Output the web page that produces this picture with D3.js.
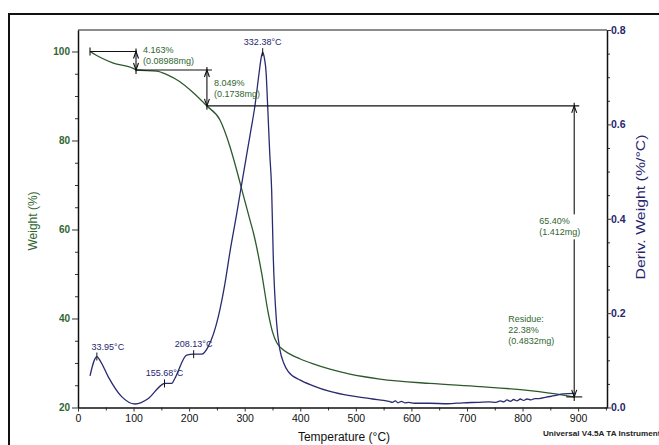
<!DOCTYPE html>
<html>
<head>
<meta charset="utf-8">
<script src="https://cdn.jsdelivr.net/npm/d3@7"></script>
<style>
  body { margin: 0; background: #fff; }
  text { font-family: "Liberation Sans", Arial, sans-serif; }
</style>
</head>
<body>
<div id="chart"></div>
<script>
const WIDTH = 659;
const HEIGHT = 445;

// TGA weight curve (°C, %)
const tempW = [21.6, 39.6, 63.5, 99.5, 104.4, 141.6, 160, 183.5, 205, 231.6, 255.5, 273.5, 285, 296, 309.5, 316, 330.5, 342.4, 350, 357.5, 366, 381.4, 400, 423.4, 453.4, 489.4, 543.4, 633.3, 723.3, 813.2, 873.2, 893];
const weightPct = [100, 98.7, 97.4, 96.2, 95.84, 95.6, 94.8, 93.2, 91.0, 87.79, 84.6, 78.6, 73.6, 68.4, 62.1, 59.1, 50.2, 41.2, 37.0, 34.6, 33.3, 32.0, 30.9, 29.8, 28.6, 27.5, 26.4, 25.4, 24.7, 23.8, 22.8, 22.38];

// DTG derivative curve (°C, %/°C)
const tempD = [21.6, 26, 30, 33.95, 40, 54.5, 78.6, 102.6, 126.5, 150.6, 155.68, 168.6, 174.5, 195.6, 208.13, 222.6, 234.4, 252.4, 264.5, 273.5, 285.5, 296.9, 310, 318.5, 326, 329.5, 332.38, 335.5, 338.5, 341.3, 345, 348.5, 351.4, 357.5, 363.4, 370, 378.4, 400, 423.4, 453.4, 489.4, 513.3, 530, 550, 560, 566, 571, 576, 582, 588, 595, 605, 633, 665, 693, 720, 740, 752, 760, 766, 772, 778, 784, 790, 796, 802, 808, 815, 822, 830, 843, 858, 873.2, 893];
const derivVal = [0.067, 0.088, 0.102, 0.108, 0.099, 0.065, 0.023, 0.0074, 0.019, 0.048, 0.051, 0.051, 0.062, 0.111, 0.113, 0.113, 0.129, 0.192, 0.263, 0.33, 0.41, 0.49, 0.58, 0.64, 0.71, 0.74, 0.753, 0.74, 0.71, 0.64, 0.54, 0.461, 0.32, 0.178, 0.122, 0.095, 0.076, 0.058, 0.046, 0.034, 0.025, 0.021, 0.018, 0.015, 0.013, 0.011, 0.014, 0.010, 0.013, 0.010, 0.011, 0.009, 0.009, 0.008, 0.010, 0.011, 0.012, 0.011, 0.014, 0.012, 0.016, 0.013, 0.017, 0.014, 0.018, 0.015, 0.018, 0.016, 0.019, 0.019, 0.022, 0.025, 0.029, 0.030];

// axis ticks
const xTicks = [0, 100, 200, 300, 400, 500, 600, 700, 800, 900];
const yLeftTicks = [20, 40, 60, 80, 100];
const yRightTicks = [0, 0.2, 0.4, 0.6, 0.8];

// weight-loss steps: [temperature of bracket, from %, to %]
const stepT = [104.4, 232, 893];
const stepFrom = [100, 95.84, 87.79];
const stepTo = [95.84, 87.79, 22.38];
const stepLabels = [["4.163%", "(0.08988mg)"], ["8.049%", "(0.1738mg)"], ["65.40%", "(1.412mg)"]];
const residueLabel = ["Residue:", "22.38%", "(0.4832mg)"];

// DTG peaks
const peakT = [33.95, 155.68, 208.13, 332.38];
const peakVal = [0.108, 0.051, 0.113, 0.753];
const peakLabels = ["33.95°C", "155.68°C", "208.13°C", "332.38°C"];

const GREEN = '#2f662f';
const NAVY = '#26266e';

const svg = d3.select('#chart')
    .append('svg')
        .attr('width', WIDTH)
        .attr('height', HEIGHT);

// outer frame
svg.append('rect')
    .attr('x', 9).attr('y', 14)
    .attr('width', 670).attr('height', 450)
    .attr('fill', 'none')
    .attr('stroke', '#111')
    .attr('stroke-width', 2);

const x = d3.scaleLinear().domain([0, 952]).range([78, 607]);
const yL = d3.scaleLinear().domain([20, 104.83]).range([407.5, 30]);
const yR = d3.scaleLinear().domain([0, 0.8]).range([407.5, 30]);

// top border of the plot
svg.append('line')
    .attr('x1', 78).attr('x2', 607)
    .attr('y1', 30).attr('y2', 30)
    .attr('stroke', '#666').attr('stroke-width', 1.5);

// minor ticks
svg.append('g')
    .attr('transform', 'translate(0,407.5)')
    .call(d3.axisBottom(x).tickValues(d3.range(50, 951, 100)).tickSize(3).tickFormat('').tickSizeOuter(0))
    .call(g => g.select('.domain').remove());
svg.append('g')
    .attr('transform', 'translate(78,0)')
    .call(d3.axisLeft(yL).tickValues(d3.range(25, 104, 5).filter(v => v % 20 !== 0)).tickSize(3).tickFormat('').tickSizeOuter(0))
    .call(g => g.select('.domain').remove());
svg.append('g')
    .attr('transform', 'translate(607,0)')
    .call(d3.axisRight(yR).tickValues(d3.range(0.05, 0.8, 0.05).filter((v, i) => (i + 1) % 4 !== 0)).tickSize(3).tickFormat('').tickSizeOuter(0))
    .call(g => g.select('.domain').remove());

// main axes
const xAxis = svg.append('g')
    .attr('transform', 'translate(0,407.5)')
    .call(d3.axisBottom(x).tickValues(xTicks).tickSize(4).tickSizeOuter(0));
xAxis.selectAll('text').attr('font-size', 10.5).attr('fill', '#111');

const leftAxis = svg.append('g')
    .attr('transform', 'translate(78,0)')
    .call(d3.axisLeft(yL).tickValues(yLeftTicks).tickSize(6).tickPadding(2).tickSizeOuter(0));
leftAxis.selectAll('text').attr('font-size', 10).attr('font-weight', 'bold').attr('fill', GREEN);

const rightAxis = svg.append('g')
    .attr('transform', 'translate(607,0)')
    .call(d3.axisRight(yR).tickValues(yRightTicks).tickFormat(d3.format('.1f')).tickSize(4).tickPadding(0).tickSizeOuter(0));
rightAxis.selectAll('text').attr('font-size', 10.5).attr('font-weight', 'bold').attr('fill', NAVY);

svg.selectAll('.domain').attr('stroke', '#111').attr('stroke-width', 1.5);
svg.selectAll('.tick line').attr('stroke', '#333');

// axis titles
svg.append('text')
    .attr('x', 344).attr('y', 441)
    .attr('text-anchor', 'middle')
    .attr('font-size', 12)
    .attr('fill', '#111')
    .text('Temperature (°C)');

svg.append('text')
    .attr('transform', 'translate(37,221) rotate(-90)')
    .attr('text-anchor', 'middle')
    .attr('font-size', 12)
    .attr('fill', GREEN)
    .text('Weight (%)');

svg.append('text')
    .attr('transform', 'translate(645,207) rotate(-90)')
    .attr('text-anchor', 'middle')
    .attr('font-size', 12)
    .attr('textLength', 145)
    .attr('lengthAdjust', 'spacingAndGlyphs')
    .attr('fill', NAVY)
    .text('Deriv. Weight (%/°C)');

svg.append('text')
    .attr('x', 543).attr('y', 436)
    .attr('font-size', 7.8)
    .attr('font-weight', 'bold')
    .attr('textLength', 122)
    .attr('lengthAdjust', 'spacingAndGlyphs')
    .attr('fill', '#222')
    .text('Universal V4.5A TA Instruments');

// curves
const weightData = tempW.map((t, i) => ({t, v: weightPct[i]}));
const derivData = tempD.map((t, i) => ({t, v: derivVal[i]}));

svg.append('path')
    .datum(weightData)
    .attr('fill', 'none')
    .attr('stroke', '#2d5a2d')
    .attr('stroke-width', 1.3)
    .attr('d', d3.line().x(d => x(d.t)).y(d => yL(d.v)).curve(d3.curveMonotoneX));

svg.append('path')
    .datum(derivData)
    .attr('fill', 'none')
    .attr('stroke', '#2a2a70')
    .attr('stroke-width', 1.3)
    .attr('d', d3.line().x(d => x(d.t)).y(d => yR(d.v)).curve(d3.curveMonotoneX));

// annotations
const ann = svg.append('g').attr('stroke', '#111').attr('stroke-width', 1.1).attr('fill', 'none');

const arrowHead = (px, py, dir) => {
    // dir = -1 points up, 1 points down
    ann.append('path')
        .attr('d', `M${px - 2.5},${py - dir * 7} L${px},${py} L${px + 2.5},${py - dir * 7}`);
};

// horizontal reference lines
ann.append('line')
    .attr('x1', x(tempW[0])).attr('x2', x(stepT[0]) + 1)
    .attr('y1', yL(stepFrom[0])).attr('y2', yL(stepFrom[0]));
ann.append('line')
    .attr('x1', x(tempW[0])).attr('x2', x(tempW[0]))
    .attr('y1', yL(stepFrom[0]) - 4).attr('y2', yL(stepFrom[0]) + 4);
ann.append('line')
    .attr('x1', x(stepT[0])).attr('x2', x(stepT[1]) + 5)
    .attr('y1', yL(stepFrom[1])).attr('y2', yL(stepFrom[1]));
ann.append('line')
    .attr('x1', x(stepT[1])).attr('x2', x(stepT[2]) + 5)
    .attr('y1', yL(stepFrom[2])).attr('y2', yL(stepFrom[2]));

stepT.forEach((t, i) => {
    const px = x(t);
    const y1 = yL(stepFrom[i]);
    const y2 = yL(stepTo[i]);
    ann.append('line').attr('x1', px).attr('x2', px).attr('y1', y1 - 3).attr('y2', y2 + 4);
    arrowHead(px, y1, -1);
    arrowHead(px, y2, 1);
});
ann.append('line')
    .attr('x1', x(stepT[2]) - 8).attr('x2', x(stepT[2]) + 8)
    .attr('y1', yL(stepTo[2])).attr('y2', yL(stepTo[2]));

// label boxes
const block = (lines, px, py, color, bg) => {
    const g = svg.append('g');
    if (bg) {
        g.append('rect')
            .attr('x', px - 2).attr('y', py - 10)
            .attr('width', 46).attr('height', lines.length * 11 + 3)
            .attr('fill', '#fff');
    }
    lines.forEach((s, i) => {
        g.append('text')
            .attr('x', px).attr('y', py + i * 11)
            .attr('font-size', 9)
            .attr('fill', color)
            .text(s);
    });
};

block(stepLabels[0], x(stepT[0]) + 7, yL(stepFrom[0]) + 1.5, GREEN, false);
block(stepLabels[1], x(stepT[1]) + 7, yL(stepFrom[1]) + 16, GREEN, false);
block(stepLabels[2], x(stepT[2]) - 35, (yL(stepFrom[2]) + yL(stepTo[2])) / 2 - 27, GREEN, true);
block(residueLabel, x(stepT[2]) - 66, yL(stepTo[2]) - 75, GREEN, false);

// DTG peak markers
peakT.forEach((t, i) => {
    const px = x(t);
    const py = yR(peakVal[i]);
    svg.append('line')
        .attr('x1', px).attr('x2', px)
        .attr('y1', py - 4).attr('y2', py + 4)
        .attr('stroke', '#111').attr('stroke-width', 1);
    svg.append('text')
        .attr('x', px + (i === 0 ? 11 : 0))
        .attr('y', py - 7)
        .attr('text-anchor', 'middle')
        .attr('font-size', 9)
        .attr('fill', NAVY)
        .text(peakLabels[i]);
});
</script>
</body>
</html>
